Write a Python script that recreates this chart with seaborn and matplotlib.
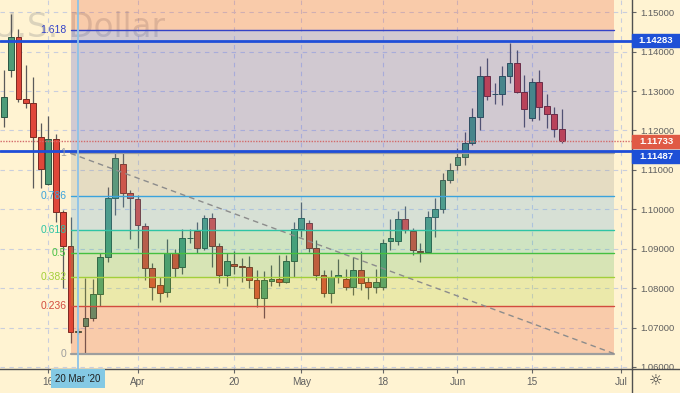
import numpy as np
import pandas as pd
import matplotlib.pyplot as plt
import seaborn as sns
from matplotlib.patches import Rectangle
from matplotlib.lines import Line2D
from matplotlib.transforms import blended_transform_factory, Bbox, TransformedBbox

sns.set_style("white")
plt.rcParams['font.family'] = ['Liberation Sans', 'DejaVu Sans']

# EUR/USD daily candles, 6 Mar - 19 Jun 2020 (business days)
first_day = "2020-03-06"
last_day = "2020-06-19"
opens = [1.1235, 1.1354, 1.1437, 1.1280, 1.1269, 1.1183, 1.1064, 1.1178, 1.0994, 1.0908,
         1.0688, 1.0705, 1.0723, 1.0784, 1.0880, 1.1029, 1.1115, 1.1041, 1.1026, 1.0958,
         1.0852, 1.0808, 1.0789, 1.0888, 1.0853, 1.0927, 1.0946, 1.0901, 1.0977, 1.0907,
         1.0833, 1.0861, 1.0857, 1.0853, 1.0821, 1.0774, 1.0819, 1.0823, 1.0816, 1.0869,
         1.0949, 1.0965, 1.0901, 1.0833, 1.0788, 1.0829, 1.0823, 1.0804, 1.0846, 1.0815,
         1.0802, 1.0804, 1.0920, 1.0920, 1.0975, 1.0945, 1.0893, 1.0892, 1.0980, 1.1000,
         1.1074, 1.1112, 1.1133, 1.1168, 1.1233, 1.1338, 1.1292, 1.1293, 1.1338, 1.1371,
         1.1298, 1.1231, 1.1322, 1.1262, 1.1242, 1.1204]
highs = [1.1354, 1.1496, 1.1458, 1.1366, 1.1337, 1.1220, 1.1237, 1.1190, 1.0998, 1.0981,
         1.0700, 1.0825, 1.0823, 1.0890, 1.1057, 1.1146, 1.1144, 1.1049, 1.1036, 1.0966,
         1.0863, 1.0829, 1.0925, 1.0899, 1.0949, 1.0951, 1.0967, 1.0986, 1.0990, 1.0914,
         1.0890, 1.0895, 1.0877, 1.0881, 1.0846, 1.0844, 1.0859, 1.0884, 1.0884, 1.0969,
         1.1018, 1.0973, 1.0922, 1.0846, 1.0846, 1.0873, 1.0848, 1.0880, 1.0895, 1.0829,
         1.0848, 1.0924, 1.0975, 1.0996, 1.1008, 1.0952, 1.0914, 1.0996, 1.1028, 1.1092,
         1.1117, 1.1156, 1.1197, 1.1257, 1.1364, 1.1384, 1.1321, 1.1364, 1.1423, 1.1404,
         1.1341, 1.1333, 1.1354, 1.1293, 1.1260, 1.1255]
lows = [1.1210, 1.1337, 1.1273, 1.1256, 1.1053, 1.1053, 1.1062, 1.0969, 1.0800, 1.0660,
        1.0683, 1.0633, 1.0717, 1.0755, 1.0865, 1.0985, 1.1007, 1.0924, 1.0901, 1.0821,
        1.0770, 1.0764, 1.0778, 1.0827, 1.0837, 1.0914, 1.0890, 1.0897, 1.0854, 1.0812,
        1.0806, 1.0836, 1.0815, 1.0800, 1.0753, 1.0723, 1.0805, 1.0805, 1.0812, 1.0829,
        1.0930, 1.0892, 1.0821, 1.0778, 1.0761, 1.0812, 1.0795, 1.0783, 1.0795, 1.0772,
        1.0787, 1.0795, 1.0897, 1.0909, 1.0939, 1.0884, 1.0867, 1.0888, 1.0930, 1.0990,
        1.1067, 1.1100, 1.1112, 1.1163, 1.1201, 1.1277, 1.1267, 1.1265, 1.1320, 1.1294,
        1.1210, 1.1225, 1.1227, 1.1206, 1.1184, 1.1168]
closes = [1.1286, 1.1438, 1.1280, 1.1269, 1.1183, 1.1102, 1.1178, 1.0994, 1.0908, 1.0688,
          1.0691, 1.0723, 1.0784, 1.0880, 1.1029, 1.1131, 1.1041, 1.1028, 1.0960, 1.0852,
          1.0804, 1.0788, 1.0888, 1.0852, 1.0926, 1.0928, 1.0903, 1.0977, 1.0907, 1.0833,
          1.0869, 1.0857, 1.0853, 1.0821, 1.0774, 1.0821, 1.0823, 1.0816, 1.0869, 1.0949,
          1.0977, 1.0901, 1.0833, 1.0788, 1.0829, 1.0833, 1.0804, 1.0846, 1.0814, 1.0802,
          1.0815, 1.0914, 1.0927, 1.0975, 1.0947, 1.0897, 1.0892, 1.0980, 1.1000, 1.1074,
          1.1100, 1.1133, 1.1168, 1.1233, 1.1338, 1.1288, 1.1293, 1.1338, 1.1371, 1.1298,
          1.1254, 1.1322, 1.1260, 1.1242, 1.1204, 1.1173]

# Fibonacci retracement drawing
fib_ratios = [0, 0.236, 0.382, 0.5, 0.618, 0.786, 1, 1.618, 2.618]
fib_low = 1.0634
fib_high = 1.1142
fib_start = "2020-03-19"
fib_end = "2020-06-30"

marked_levels = [1.14283, 1.11487]
last_price = 1.11733
cursor_day = "2020-03-20"

date_ticks = ["2020-03-16", "2020-04-01", "2020-04-20", "2020-05-01",
              "2020-05-18", "2020-06-01", "2020-06-15", "2020-07-01"]
date_labels = ["16", "Apr", "20", "May", "18", "Jun", "15", "Jul"]
price_ticks = [1.06, 1.07, 1.08, 1.09, 1.10, 1.11, 1.12, 1.13, 1.14, 1.15]

BG = "#FFF3D2"
UP, UP_EDGE = "#4E9C78", "#2C5644"
DN, DN_EDGE = "#E0473A", "#7A2A22"
line_colors = ["#9E9E9E", "#D24B3E", "#A2CF3A", "#45C03F", "#2EC4A5",
               "#3BA3DC", "#9E9E9E", "#3342C8", "#D24B3E"]
band_colors = ["#E8401C", "#A6C81E", "#4CB050", "#26B08A",
               "#4A9FE0", "#8C8C8C", "#3034D0", "#E8401C"]

cal = pd.bdate_range(first_day, "2020-07-03")


def xpos(day):
    return cal.get_loc(pd.Timestamp(day))


df = pd.DataFrame({"date": pd.bdate_range(first_day, last_day),
                   "open": opens, "high": highs, "low": lows, "close": closes})
df["x"] = [xpos(d) for d in df["date"]]
up = df["close"] >= df["open"]

ymin, ymax = 1.05947, 1.15312
W, H = 680, 393
AX_W, AX_H = 632, 369

fig = plt.figure(figsize=(6.8, 3.93), dpi=100, facecolor=BG)
ax = fig.add_axes([0, (H - AX_H) / H, AX_W / W, AX_H / H])
ax.set_facecolor(BG)

# watermark (cut off at the left like the screenshot)
ax.text(165 / AX_W, 1 - 37 / AX_H, "Euro / U.S. Dollar", transform=ax.transAxes,
        ha="right", va="baseline", fontsize=23.5, color="#8A8A8A", alpha=0.3,
        family="DejaVu Sans", zorder=1, clip_on=True)

# candles
ax.vlines(df["x"], df["low"], df["high"], colors="#5A5A5A", lw=0.9, zorder=2)
body_lo = np.minimum(df["open"], df["close"])
body_h = np.maximum((df["close"] - df["open"]).abs(), 0.00008)
ax.bar(df["x"], body_h, bottom=body_lo, width=0.78,
       color=np.where(up, UP, DN), edgecolor=np.where(up, UP_EDGE, DN_EDGE),
       linewidth=0.7, zorder=3)

# fib retracement
x0, x1 = xpos(fib_start), xpos(fib_end)
levels = fib_low + np.array(fib_ratios) * (fib_high - fib_low)
for i in range(1, len(levels)):
    ax.fill_between([x0, x1], levels[i - 1], levels[i], color=band_colors[i - 1],
                    alpha=0.22, lw=0, zorder=4)
for r, lv, c in zip(fib_ratios, levels, line_colors):
    lw = 1.6 if r in (0, 1) else 1.0
    ax.plot([x0, x1], [lv, lv], color=c, lw=lw, zorder=5)
    ax.annotate(f"{r:g}", (x0, lv), xytext=(-3, 0), textcoords="offset points",
                ha="right", va="center", color=c, fontsize=7.5, zorder=8)
sns.lineplot(x=[x0, x1], y=[fib_high, fib_low], ax=ax, color="#8C8C8C",
             lw=1, linestyle=(0, (4, 3)), zorder=5)

# horizontal marks, last price, crosshair
for p in marked_levels:
    ax.axhline(p, color="#1F4ED8", lw=2, zorder=6)
ax.axhline(last_price, color="#D36A6A", lw=1, ls=(0, (1, 1)), zorder=6)
ax.axvline(xpos(cursor_day), color="#8DC3E8", lw=1.3, zorder=7)

# axes
ax.set_xlim(10 - 78 / 7.44, 10 + (AX_W - 78) / 7.44)
ax.set_ylim(ymin, ymax)
ax.set_xticks([xpos(d) for d in date_ticks])
ax.set_xticklabels(date_labels)
ax.set_yticks(price_ticks)
ax.set_yticklabels([f"{p:.5f}" for p in price_ticks])
ax.yaxis.tick_right()
ax.grid(True, color="#C9CEDD", lw=0.8, ls=(0, (4, 4)))
ax.set_axisbelow(True)
ax.tick_params(axis="y", right=True, left=False, length=3, width=0.8, color="#666666",
               labelsize=6.8, labelcolor="#5F5F5F", pad=3)
ax.tick_params(axis="x", bottom=True, length=3, width=0.8, color="#666666",
               labelsize=7.2, labelcolor="#5F5F5F", pad=2.5)
for s in ["top", "left"]:
    ax.spines[s].set_visible(False)
for s in ["right", "bottom"]:
    ax.spines[s].set_color("#505050")
    ax.spines[s].set_linewidth(1)

clip = TransformedBbox(Bbox.from_extents(0, (H - AX_H) / H, 1, 1), fig.transFigure)
for t in ax.yaxis.get_major_ticks():
    t.label2.set_clip_on(True)
    t.label2.set_clip_box(clip)

# price tags on the right axis
tr = blended_transform_factory(ax.transAxes, ax.transData)
unit = (ymax - ymin) / AX_H


def tag(price, color, shift=0):
    c = price - shift * unit
    ax.add_patch(Rectangle((1.0, c - 6.5 * unit), 48 / AX_W, 13 * unit, transform=tr,
                           color=color, clip_on=False, zorder=10))
    ax.text(1.0 + 24 / AX_W, c, f"{price:.5f}", transform=tr, ha="center", va="center",
            color="white", fontsize=6.8, fontweight="bold", zorder=11, clip_on=False)


tag(marked_levels[0], "#1E50D6")
tag(last_price, "#E05A45")
tag(marked_levels[1], "#1E50D6", shift=5.5)

# cursor date label
ax.text(xpos(cursor_day), -9.5 / AX_H, pd.Timestamp(cursor_day).strftime("%d %b '%y"),
        transform=blended_transform_factory(ax.transData, ax.transAxes),
        ha="center", va="center", fontsize=7, color="#1F1F1F", zorder=12, clip_on=False,
        bbox=dict(boxstyle="square,pad=0.45", fc="#84C9E4", ec="none"))

# corner lines and settings icon
fx = AX_W / W
fy = (H - AX_H) / H
fig.add_artist(Line2D([fx, fx], [0, fy], transform=fig.transFigure, color="#505050", lw=1))
fig.add_artist(Line2D([fx, 1], [fy, fy], transform=fig.transFigure, color="#505050", lw=1))
fig.text(656 / W, 12 / H, "\u263c", ha="center", va="center", fontsize=11,
         color="#3A3A3A", family="DejaVu Sans")

fig.savefig("out.png", dpi=100, facecolor=BG)
